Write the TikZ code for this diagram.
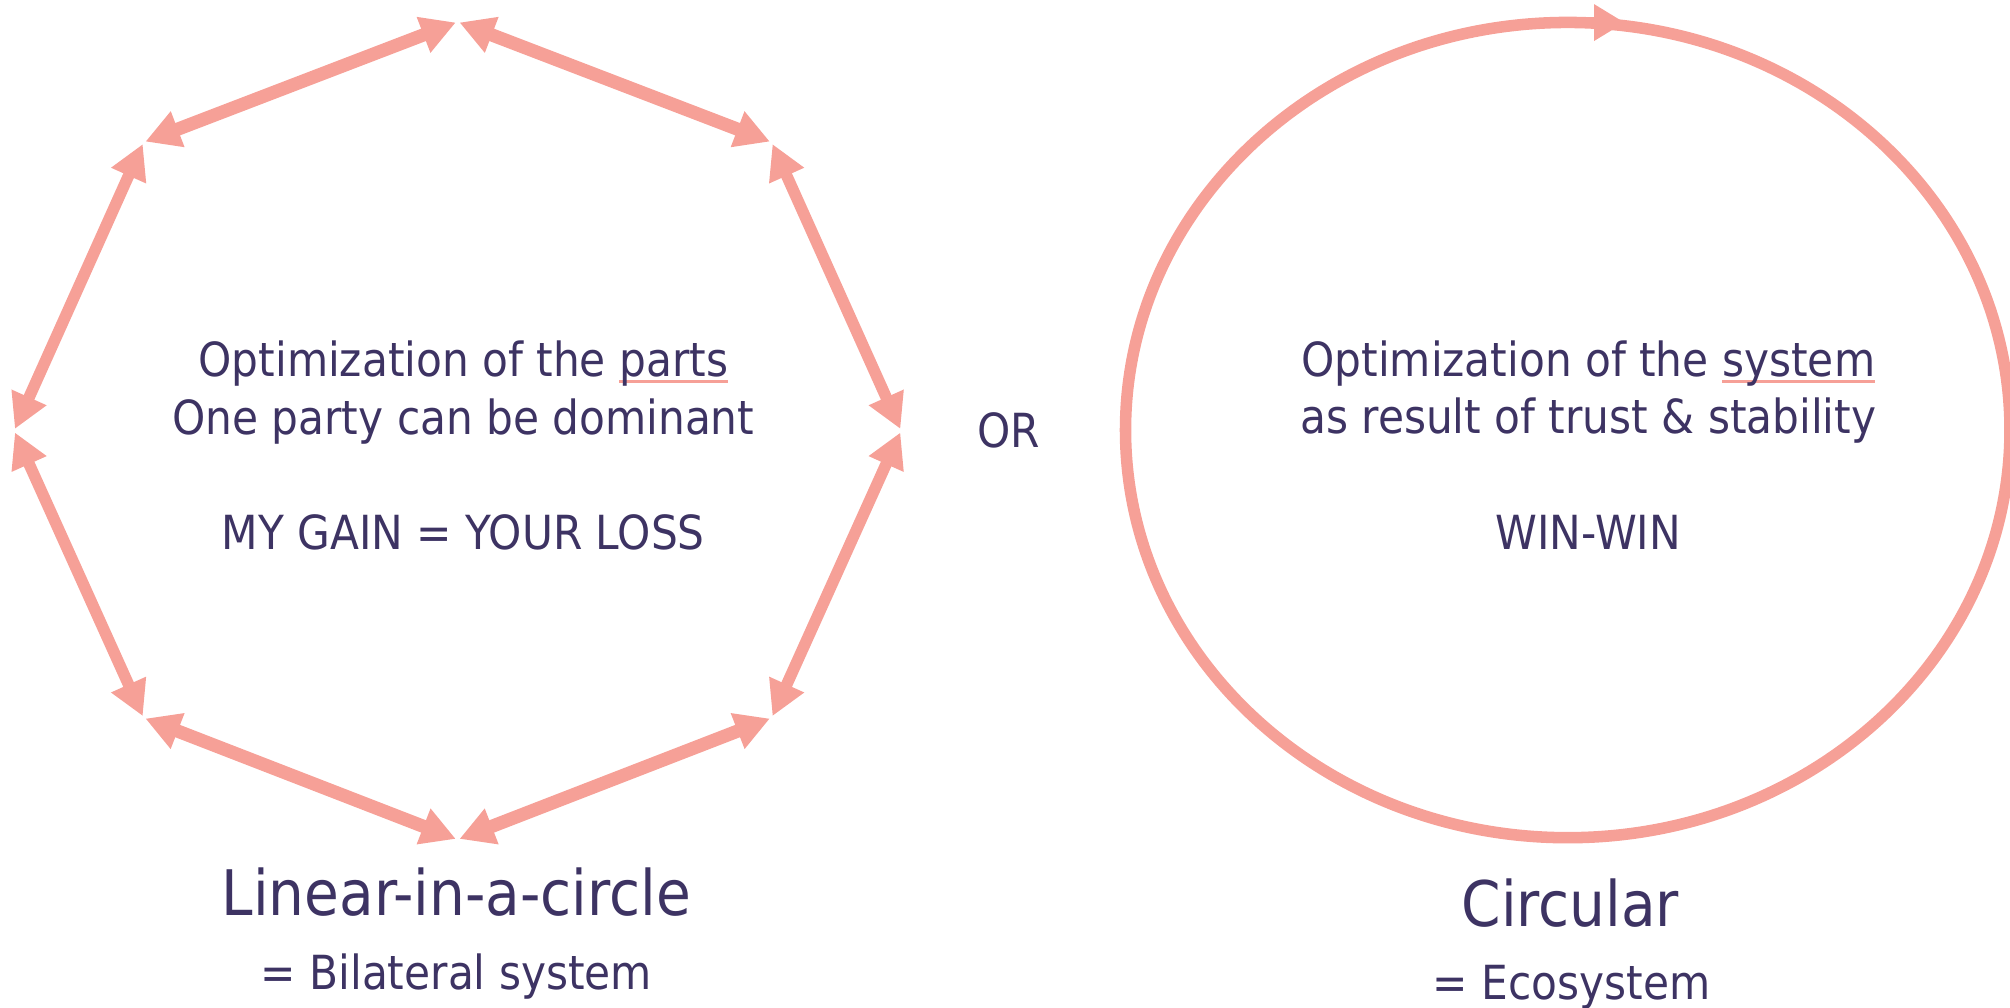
\documentclass[tikz,border=0pt]{standalone}
\usepackage{fontspec}
\setmainfont{DejaVu Sans Condensed}
\usetikzlibrary{arrows.meta}
\definecolor{salmon}{RGB}{246,160,151}
\definecolor{ink}{RGB}{61,51,99}
\newcommand\salul[1]{\sbox0{#1}\rlap{\textcolor{salmon}{\rule[-1.55pt]{\wd0}{0.75pt}}}\usebox0}
\tikzset{
  edgethick/.style={draw=salmon, line width=3.1pt, {Triangle[length=8.1pt,width=8.4pt]}-{Triangle[length=8.1pt,width=8.4pt]}, shorten <=0.45pt, shorten >=0.45pt},
  edgethin/.style={draw=salmon, line width=2.7pt, {Triangle[length=8.1pt,width=8.4pt]}-{Triangle[length=8.1pt,width=8.4pt]}, shorten <=0.45pt, shorten >=0.45pt},
  ring/.style={draw=salmon, line width=2.7pt},
  body/.style={text=ink, inner sep=0pt, anchor=base, font=\fontsize{11pt}{13.5pt}\selectfont},
  title/.style={text=ink, inner sep=0pt, anchor=base, font=\fontsize{14.7pt}{18pt}\selectfont}
}
\begin{document}
\begin{tikzpicture}[x=0.3pt,y=-0.3pt]
\useasboundingbox (0,0) rectangle (1568,786.3);
% octagon vertices
\coordinate (T)  at (357,17);
\coordinate (UR) at (602,111);
\coordinate (R)  at (703,336);
\coordinate (LR) at (602,560);
\coordinate (B)  at (357,655);
\coordinate (LL) at (112,560);
\coordinate (L)  at (11,336);
\coordinate (UL) at (112,111);
\draw[edgethick] (UL) -- (T);
\draw[edgethick] (T) -- (UR);
\draw[edgethin]  (UR) -- (R);
\draw[edgethin]  (R) -- (LR);
\draw[edgethick] (LR) -- (B);
\draw[edgethick] (B) -- (LL);
\draw[edgethin]  (LL) -- (L);
\draw[edgethin]  (L) -- (UL);
% left texts
\node[body] (l1) at (361.5,293.8) {Optimization of the \salul{parts}};
\node[body] (l2) at (361.5,339.3) {One party can be dominant};
\node[body] (l3) at (361.5,429) {MY GAIN = YOUR LOSS};
\node[title] (lt) at (356,713.8) {Linear-in-a-circle};
\node[body] (ls) at (356,772) {= Bilateral system};
% OR
\node[body] (or) at (787,349) {OR};
% ellipse
\coordinate (E) at (1223,335.5);
\draw[ring] (E) ellipse [x radius=345, y radius=318];
\coordinate (etip) at (1267.5,17.6);
\coordinate (etail) at (1215,17.6);
\draw[ring, -{Triangle[length=7.2pt,width=8.1pt]}] (etail) -- (etip);
% right texts
\node[body] (r1) at (1239,293.8) {Optimization of the \salul{system}};
\node[body] (r2) at (1239,338.5) {as result of trust \& stability};
\node[body] (r3) at (1239,429) {WIN-WIN};
\node[title] (rt) at (1225,722.9) {Circular};
\node[body] (rs) at (1226,780) {= Ecosystem};
\end{tikzpicture}
\end{document}
